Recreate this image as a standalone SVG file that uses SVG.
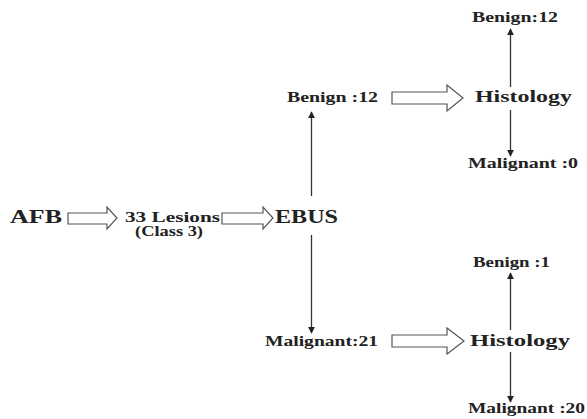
<svg xmlns="http://www.w3.org/2000/svg" width="587" height="419" viewBox="0 0 587 419">
<defs>
<marker id="ah" viewBox="0 0 10 10" refX="9" refY="5" markerWidth="7" markerHeight="7" markerUnits="userSpaceOnUse" orient="auto">
<path d="M0,0 L10,5 L0,10 Z" fill="#222"/>
</marker>
</defs>
<style>
text{font-family:"Liberation Serif","Times New Roman",serif;font-weight:bold;fill:#222}
.big{font-size:18px}
.hist{font-size:17px}
.lbl{font-size:14px}
.blk{fill:#fff;stroke:#555;stroke-width:1.2}
.ln{stroke:#333;stroke-width:1.3;fill:none;marker-end:url(#ah)}
</style>
<rect width="587" height="419" fill="#fff"/>
<g id="afb"><text class="big" x="10" y="223" textLength="52" lengthAdjust="spacingAndGlyphs">AFB</text></g>
<g id="lesions">
<text class="lbl" x="125" y="222" textLength="95" lengthAdjust="spacingAndGlyphs">33 Lesions</text>
<text class="lbl" x="135" y="236" textLength="68" lengthAdjust="spacingAndGlyphs">(Class 3)</text>
</g>
<g id="ebus"><text class="big" x="275" y="223" textLength="63" lengthAdjust="spacingAndGlyphs">EBUS</text></g>
<g id="benign12"><text class="lbl" x="287" y="102" textLength="91" lengthAdjust="spacingAndGlyphs">Benign :12</text></g>
<g id="histology1"><text class="hist" x="475" y="102" textLength="97" lengthAdjust="spacingAndGlyphs">Histology</text></g>
<g id="hbenign12"><text class="lbl" x="472" y="22" textLength="86" lengthAdjust="spacingAndGlyphs">Benign:12</text></g>
<g id="hmalignant0"><text class="lbl" x="468" y="168" textLength="110" lengthAdjust="spacingAndGlyphs">Malignant :0</text></g>
<g id="malignant21"><text class="lbl" x="265" y="346" textLength="113" lengthAdjust="spacingAndGlyphs">Malignant:21</text></g>
<g id="histology2"><text class="hist" x="470" y="346" textLength="100" lengthAdjust="spacingAndGlyphs">Histology</text></g>
<g id="hbenign1"><text class="lbl" x="473" y="267" textLength="77" lengthAdjust="spacingAndGlyphs">Benign :1</text></g>
<g id="hmalignant20"><text class="lbl" x="468" y="413" textLength="117" lengthAdjust="spacingAndGlyphs">Malignant :20</text></g>
<g id="connectors">
<polygon class="blk" points="68,213 107,213 107,207 117,218 107,229 107,224 68,224"/>
<polygon class="blk" points="222,213 263,213 263,207 273,218 263,229 263,224 222,224"/>
<polygon class="blk" points="392,92 447,92 447,85 463,98 447,111 447,104 392,104"/>
<polygon class="blk" points="392,335 447,335 447,328 464,341 447,354 447,347 392,347"/>
<line class="ln" x1="311.5" y1="196" x2="311.5" y2="112"/>
<line class="ln" x1="311.5" y1="235" x2="311.5" y2="333"/>
<line class="ln" x1="510.5" y1="87" x2="510.5" y2="29"/>
<line class="ln" x1="510.5" y1="110" x2="510.5" y2="156"/>
<line class="ln" x1="510.5" y1="330" x2="510.5" y2="273"/>
<line class="ln" x1="510.5" y1="352" x2="510.5" y2="402"/>
</g>
</svg>
